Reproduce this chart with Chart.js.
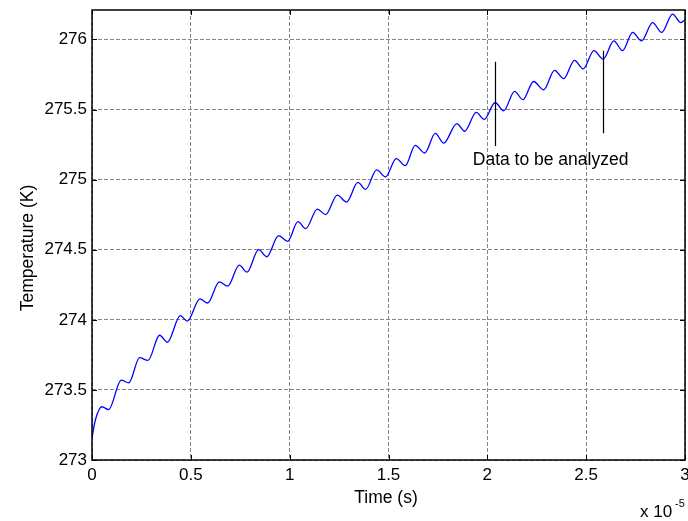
<!DOCTYPE html>
<html>
<head>
<meta charset="utf-8">
<script src="https://cdn.jsdelivr.net/npm/chart.js@4/dist/chart.umd.min.js"></script>
<style>
  html, body { margin: 0; padding: 0; background: #fff; }
  #wrap { width: 688px; height: 521px; }
</style>
</head>
<body>
<div id="wrap"><canvas id="tempChart" width="688" height="521"></canvas></div>
<script>
// time in units of 1e-5 s (the axis carries the x 10^-5 multiplier)
var timeE5 = [
  0.000, 0.017, 0.050, 0.084, 0.148, 0.186, 0.241, 0.283, 0.342, 0.381,
  0.447, 0.482, 0.546, 0.585, 0.644, 0.686, 0.745, 0.784, 0.843, 0.884,
  0.944, 0.990, 1.042, 1.081, 1.140, 1.182, 1.241, 1.288, 1.345, 1.384,
  1.440, 1.485, 1.539, 1.585, 1.635, 1.683, 1.737, 1.779, 1.846, 1.885,
  1.944, 1.984, 2.040, 2.082, 2.138, 2.180, 2.234, 2.285, 2.340, 2.386,
  2.441, 2.485, 2.539, 2.586, 2.640, 2.684, 2.735, 2.780, 2.836, 2.882,
  2.937, 2.979, 3.000
];
var tempK = [
  273.16, 273.285, 273.38, 273.36, 273.57, 273.55, 273.73, 273.71, 273.89, 273.84,
  274.03, 273.99, 274.15, 274.12, 274.27, 274.24, 274.39, 274.34, 274.50, 274.45,
  274.60, 274.56, 274.70, 274.65, 274.79, 274.75, 274.89, 274.84, 274.98, 274.93,
  275.07, 275.02, 275.15, 275.10, 275.245, 275.19, 275.33, 275.26, 275.40, 275.345,
  275.48, 275.43, 275.55, 275.49, 275.63, 275.57, 275.70, 275.64, 275.78, 275.72,
  275.85, 275.79, 275.92, 275.86, 275.99, 275.92, 276.05, 275.99, 276.12, 276.05,
  276.18, 276.12, 276.14
];

var xTicks = [0, 0.5, 1, 1.5, 2, 2.5, 3];
var yTicks = [273, 273.5, 274, 274.5, 275, 275.5, 276];

// the two markers bounding the analysed window, and the note under them
var markerTimes = [2.04, 2.585];
var markerTop = [275.84, 275.92];
var markerBottom = [275.24, 275.33];
var noteText = "Data to be analyzed";

var FONT = "'Liberation Sans', Arial, sans-serif";

var points = timeE5.map(function (t, i) {
  return { x: t, y: tempK[i] };
});

function keepTicks(list) {
  return function (scale) {
    scale.ticks = list.map(function (v) { return { value: v }; });
  };
}

function plainLabel(value) {
  return String(value);
}

var framePlugin = {
  id: "framePlugin",
  afterDatasetsDraw: function (chart) {
    var ctx = chart.ctx;
    var a = chart.chartArea;
    var xs = chart.scales.x;
    var ys = chart.scales.y;
    ctx.save();

    // box round the axes
    ctx.strokeStyle = "#000";
    ctx.lineWidth = 1.5;
    ctx.strokeRect(a.left, a.top, a.right - a.left, a.bottom - a.top);

    // inward tick marks on all four sides
    ctx.lineWidth = 1;
    ctx.beginPath();
    xTicks.forEach(function (v) {
      var px = Math.round(xs.getPixelForValue(v)) + 0.5;
      ctx.moveTo(px, a.bottom); ctx.lineTo(px, a.bottom - 5);
      ctx.moveTo(px, a.top); ctx.lineTo(px, a.top + 5);
    });
    yTicks.forEach(function (v) {
      var py = Math.round(ys.getPixelForValue(v)) + 0.5;
      ctx.moveTo(a.left, py); ctx.lineTo(a.left + 5, py);
      ctx.moveTo(a.right, py); ctx.lineTo(a.right - 5, py);
    });
    ctx.stroke();

    // marker lines
    ctx.lineWidth = 1.2;
    ctx.beginPath();
    markerTimes.forEach(function (t, i) {
      var px = Math.round(xs.getPixelForValue(t)) + 0.5;
      ctx.moveTo(px, ys.getPixelForValue(markerTop[i]));
      ctx.lineTo(px, ys.getPixelForValue(markerBottom[i]));
    });
    ctx.stroke();

    ctx.fillStyle = "#000";
    ctx.font = "17.5px " + FONT;
    ctx.textAlign = "center";
    ctx.textBaseline = "alphabetic";
    ctx.fillText(noteText, xs.getPixelForValue(2.32), 165);

    // axis titles
    ctx.fillText("Time (s)", 386, 503);
    ctx.save();
    ctx.translate(33, 248);
    ctx.rotate(-Math.PI / 2);
    ctx.fillText("Temperature (K)", 0, 0);
    ctx.restore();

    // exponent multiplier
    ctx.textAlign = "left";
    ctx.font = "17px " + FONT;
    ctx.fillText("x 10", 640, 517);
    ctx.font = "11px " + FONT;
    ctx.fillText("-5", 675, 507);

    ctx.restore();
  }
};

new Chart(document.getElementById("tempChart"), {
  type: "line",
  data: {
    datasets: [{
      label: "Temperature",
      data: points,
      borderColor: "#0000ff",
      borderWidth: 1.3,
      pointRadius: 0,
      fill: false,
      cubicInterpolationMode: "monotone"
    }]
  },
  options: {
    responsive: false,
    animation: false,
    layout: { padding: { top: 10, right: 3, left: 0, bottom: 0 } },
    plugins: { legend: { display: false }, tooltip: { enabled: false } },
    scales: {
      x: {
        type: "linear",
        min: 0,
        max: 3,
        afterBuildTicks: keepTicks(xTicks),
        afterFit: function (s) {
          s.height = 61;
          s.paddingLeft = 0;
          s.paddingRight = 0;
        },
        grid: { color: "#858585", lineWidth: 1, drawTicks: false },
        border: { display: false, dash: [4, 2] },
        ticks: {
          padding: 5,
          maxRotation: 0,
          color: "#000",
          callback: plainLabel,
          font: { family: FONT, size: 17 }
        }
      },
      y: {
        type: "linear",
        min: 273,
        max: 276.21,
        afterBuildTicks: keepTicks(yTicks),
        afterFit: function (s) {
          s.width = 92;
          s.paddingTop = 0;
          s.paddingBottom = 0;
        },
        grid: { color: "#858585", lineWidth: 1, drawTicks: false },
        border: { display: false, dash: [4, 2] },
        ticks: {
          padding: 5,
          color: "#000",
          callback: plainLabel,
          font: { family: FONT, size: 17 }
        }
      }
    }
  },
  plugins: [framePlugin]
});
</script>
</body>
</html>
